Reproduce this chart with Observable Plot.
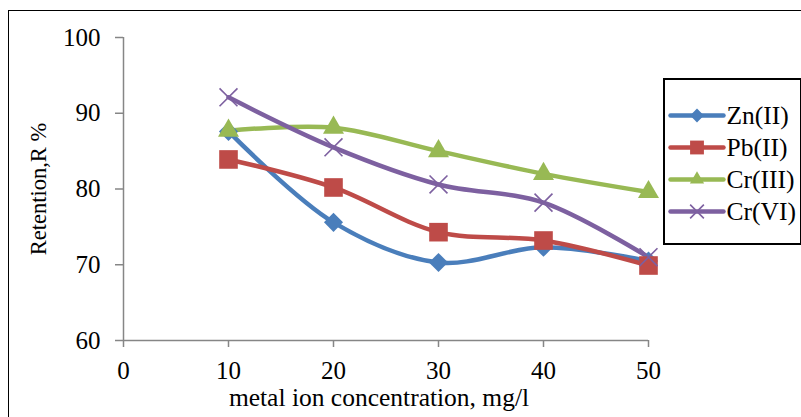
<!DOCTYPE html>
<html>
<head>
<meta charset="utf-8">
<script src="https://cdn.jsdelivr.net/npm/d3@7"></script>
<script src="https://cdn.jsdelivr.net/npm/@observablehq/plot@0.6"></script>
<style>
  html, body { margin: 0; padding: 0; background: #fff; width: 801px; height: 417px; overflow: hidden; }
  #wrap { position: relative; width: 801px; height: 417px; }
  #frame { position: absolute; left: 8px; top: 10px; width: 900px; height: 500px; border-left: 1.5px solid #000; border-top: 1.5px solid #000; }
  #chart { position: absolute; left: 0; top: 0; }
  #legend { position: absolute; left: 663px; top: 78px; width: 135px; height: 163px; border: 2px solid #000; background: #fff; }
  svg { font-family: "Liberation Serif", "Times New Roman", serif; }
</style>
</head>
<body>
<div id="wrap">
  <div id="frame"></div>
  <div id="chart"></div>
  <div id="legend"></div>
</div>
<script>
// ---- data ----
const concentrations = [10, 20, 30, 40, 50];
const seriesNames = ["Zn(II)", "Pb(II)", "Cr(III)", "Cr(VI)"];
const znValues  = [87.6, 75.6, 70.3, 72.3, 70.5];
const pbValues  = [83.9, 80.2, 74.3, 73.2, 69.9];
const cr3Values = [87.7, 88.1, 85.0, 82.0, 79.6];
const cr6Values = [92.1, 85.5, 80.6, 78.2, 71.0];
const xTicks = [0, 10, 20, 30, 40, 50];
const yTicks = [60, 70, 80, 90, 100];
const xTitle = "metal ion concentration, mg/l";
const yTitle = "Retention,R %";

const seriesColors = ["#4A7EBB", "#BE4B48", "#98B954", "#7D60A0"];
const seriesSymbols = ["diamond2", "square", "triangle", "times"];
const valueLists = [znValues, pbValues, cr3Values, cr6Values];

const rows = [];
seriesNames.forEach((s, i) => {
  concentrations.forEach((c, j) => rows.push({series: s, x: c, y: valueLists[i][j]}));
});
const bySeries = s => rows.filter(d => d.series === s);

const axisGray = "#868686";
const markR = {"Zn(II)": 8.6, "Pb(II)": 10.5, "Cr(III)": 7.8, "Cr(VI)": 8.2};
const legendR = {"Zn(II)": 6.2, "Pb(II)": 7.8, "Cr(III)": 5.3, "Cr(VI)": 6.3};

const marks = [
  Plot.ruleX([0], {stroke: axisGray, strokeWidth: 1.5}),
  Plot.ruleY([60], {stroke: axisGray, strokeWidth: 1.5}),
  Plot.axisY(yTicks, {tickSize: 8, tickPadding: 15, stroke: axisGray, strokeWidth: 1.5, fill: "#000", fontSize: 25, label: null}),
  Plot.axisX(xTicks, {tickSize: 7, tickPadding: 14, stroke: axisGray, strokeWidth: 1.5, fill: "#000", fontSize: 25, label: null}),
  Plot.text([yTitle], {frameAnchor: "left", textAnchor: "middle", lineAnchor: "middle", rotate: -90, dx: -85, fontSize: 22.5, fill: "#000"}),
  Plot.text([xTitle], {frameAnchor: "bottom", textAnchor: "middle", lineAnchor: "middle", dy: 57, dx: -7, fontSize: 25.5, fill: "#000"})
];
seriesNames.forEach((s, i) => {
  const data = bySeries(s);
  marks.push(Plot.line(data, {x: "x", y: "y", stroke: seriesColors[i], strokeWidth: 4.5, curve: "catmull-rom"}));
});
seriesNames.forEach((s, i) => {
  const data = bySeries(s);
  if (seriesSymbols[i] === "times") {
    marks.push(Plot.dot(data, {x: "x", y: "y", symbol: "times", r: markR[s], stroke: seriesColors[i], strokeWidth: 1.6}));
  } else {
    marks.push(Plot.dot(data, {x: "x", y: "y", symbol: seriesSymbols[i], r: markR[s], fill: seriesColors[i], stroke: "none"}));
  }
});

const chart = Plot.plot({
  width: 801,
  height: 417,
  marginLeft: 123,
  marginRight: 153,
  marginTop: 37,
  marginBottom: 77,
  x: {domain: [0, 50]},
  y: {domain: [60, 100]},
  style: {fontFamily: "Liberation Serif, Times New Roman, serif", background: "transparent"},
  marks
});
document.getElementById("chart").appendChild(chart);

// ---- legend (separate small Plot) ----
const legendRows = seriesNames.map((s, i) => ({series: s, color: seriesColors[i], symbol: seriesSymbols[i]}));
const legendLines = [];
legendRows.forEach(d => { legendLines.push({series: d.series, x: 0}); legendLines.push({series: d.series, x: 1}); });
const legendMarks = [];
legendRows.forEach(d => {
  legendMarks.push(Plot.line(legendLines.filter(l => l.series === d.series), {x: "x", y: "series", stroke: d.color, strokeWidth: 4.5}));
  if (d.symbol === "times") {
    legendMarks.push(Plot.dot([d], {x: () => 0.5, y: "series", symbol: "times", r: legendR[d.series], stroke: d.color, strokeWidth: 1.6}));
  } else {
    legendMarks.push(Plot.dot([d], {x: () => 0.5, y: "series", symbol: d.symbol, r: legendR[d.series], fill: d.color, stroke: "none"}));
  }
});
legendMarks.push(Plot.text(legendRows, {x: () => 1, y: "series", text: "series", textAnchor: "start", dx: 3, fontSize: 25.5, fill: "#000"}));

const legend = Plot.plot({
  width: 135,
  height: 163,
  margin: 0,
  x: {domain: [0, 1], range: [5, 58], axis: null},
  y: {type: "point", domain: seriesNames, range: [19, 147], axis: null},
  style: {fontFamily: "Liberation Serif, Times New Roman, serif", background: "transparent", overflow: "visible"},
  marks: legendMarks
});
document.getElementById("legend").appendChild(legend);
</script>
</body>
</html>
